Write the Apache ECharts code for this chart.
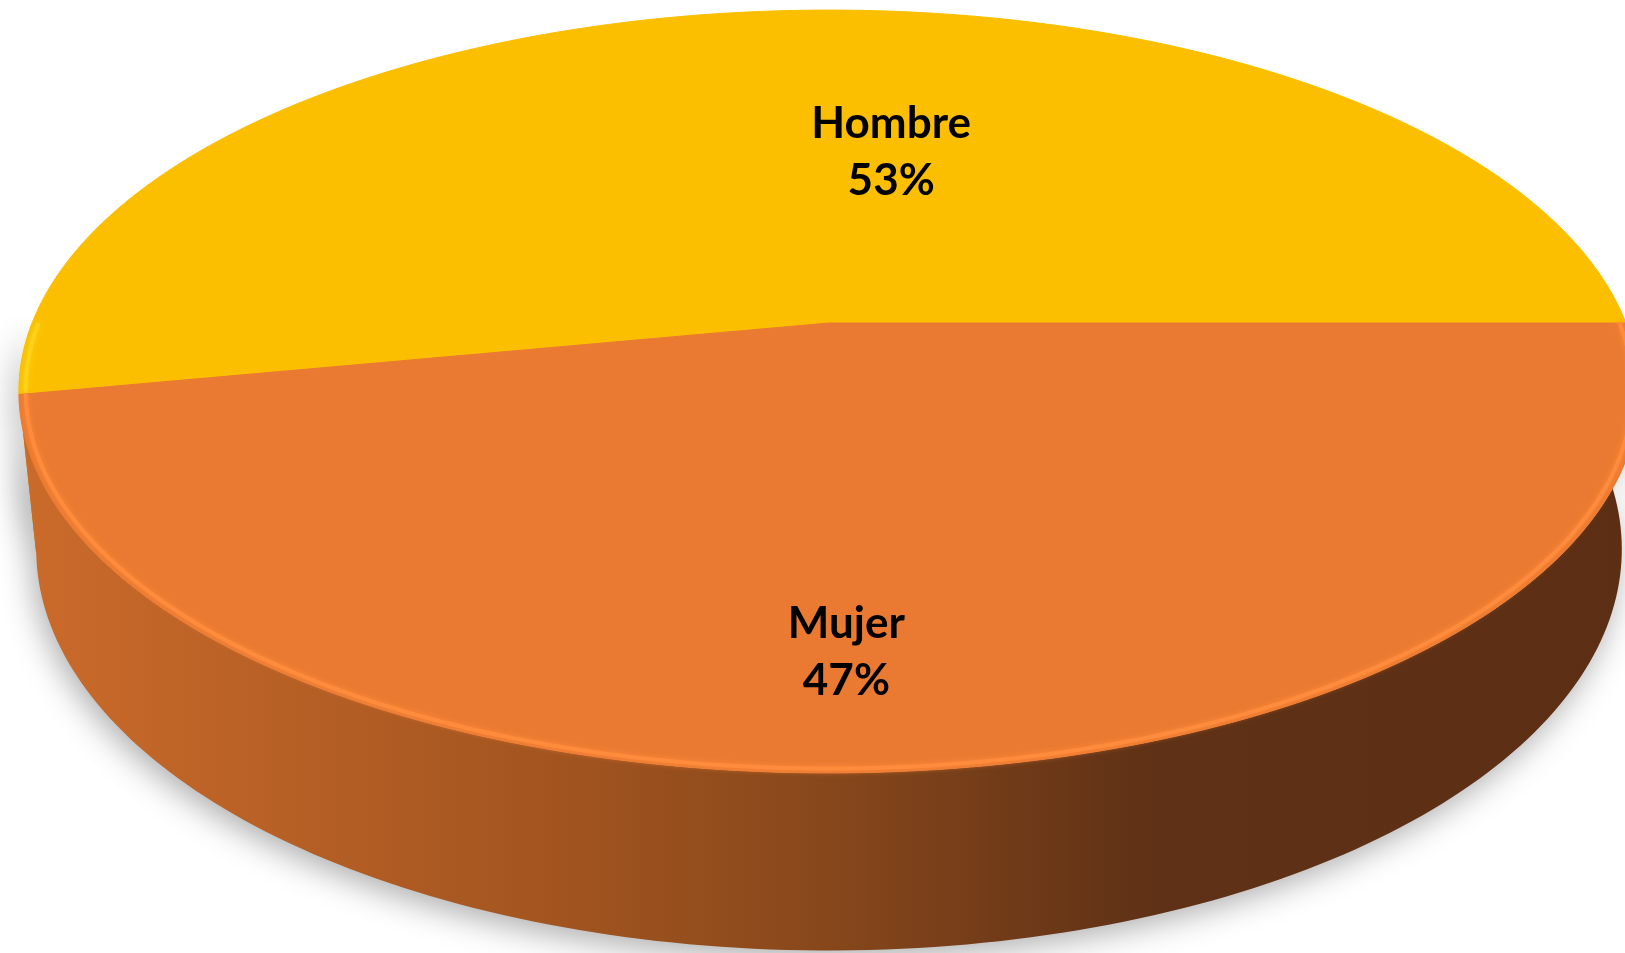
<!DOCTYPE html>
<html>
<head>
<meta charset="utf-8">
<script src="https://cdn.jsdelivr.net/npm/echarts@6/dist/echarts.min.js"></script>
<style>
html, body { margin: 0; padding: 0; background: #ffffff; }
#chart { width: 1625px; height: 953px; }
</style>
</head>
<body>
<div id="chart"></div>
<script>
// datos del grafico
var categories = ['Hombre', 'Mujer'];
var values = [53, 47];
var topColors = ['#FBBF00', '#EA7A31'];
var rimColors = ['#FFD21A', '#FF8B3D'];
// posicion de etiquetas (ajuste de angulo y radio, estilo Excel)
var labelShift = [-15, -4];
var labelRadius = [0.51, 0.77];

/* proyeccion 3D del pastel */
var CX = 829, CY = 323, F = 3932, D = 4.934;
var SIN_P = 0.4632, COS_P = 0.8862, H = 0.225;
var START = 0;

function proj(deg, r, z) {
    var a = deg * Math.PI / 180;
    var X = r * Math.cos(a), Y = r * Math.sin(a);
    var depth = D + Y * COS_P - z * SIN_P;
    var yc = Y * SIN_P + z * COS_P;
    return [CX + F * X / depth, CY - F * yc / depth];
}

var total = values.reduce(function (s, v) { return s + v; }, 0);
var slices = [];
var acc = START;
values.forEach(function (v) {
    var span = v / total * 360;
    slices.push({ a0: acc, a1: acc + span });
    acc += span;
});

function arc(a0, a1, r, z) {
    var pts = [];
    var n = Math.max(2, Math.ceil(Math.abs(a1 - a0)));
    for (var i = 0; i <= n; i++) {
        pts.push(proj(a0 + (a1 - a0) * i / n, r, z));
    }
    return pts;
}

function wallRange(s) {
    var lo = Math.max(s.a0, 180), hi = Math.min(s.a1, 360);
    return hi > lo ? [lo, hi] : null;
}

var wallFill = [
    '#C99800',
    new echarts.graphic.LinearGradient(0, 0, 1, 0, [
        { offset: 0, color: '#CB6B2B' },
        { offset: 0.35, color: '#A0531F' },
        { offset: 0.5, color: '#87471B' },
        { offset: 0.7, color: '#5F3116' },
        { offset: 1, color: '#5C2F15' }
    ])
];

function renderWall(params, api) {
    var s = slices[params.dataIndex];
    var rg = wallRange(s);
    if (!rg) return;
    var top = arc(rg[0], rg[1], 1, 0);
    var bot = arc(rg[0], rg[1], 1, -H).reverse();
    return {
        type: 'polygon',
        shape: { points: top.concat(bot) },
        style: {
            fill: wallFill[params.dataIndex],
            shadowColor: 'rgba(0,0,0,0.32)',
            shadowBlur: 32,
            shadowOffsetY: 8,
            shadowOffsetX: -4
        }
    };
}

function renderTop(params, api) {
    var i = params.dataIndex;
    var s = slices[i];
    var pts = [proj(0, 0, 0)].concat(arc(s.a0, s.a1, 1, 0));
    var children = [{
        type: 'polygon',
        shape: { points: pts },
        style: { fill: topColors[i], stroke: topColors[i], lineWidth: 1 }
    }];
    var rg = wallRange(s);
    if (rg) {
        children.push({
            type: 'polyline',
            shape: { points: arc(rg[0], rg[1], 0.992, 0) },
            style: { stroke: rimColors[i], lineWidth: 4, fill: null, shadowColor: rimColors[i], shadowBlur: 6 }
        });
    }
    var mid = (s.a0 + s.a1) / 2 + labelShift[i];
    var p = proj(mid, labelRadius[i], 0);
    var pct = Math.round(values[i] / total * 100);
    children.push({
        type: 'text',
        style: {
            text: categories[i] + '\n' + pct + '%',
            x: p[0],
            y: p[1],
            align: 'center',
            verticalAlign: 'middle',
            fill: '#000000',
            fontFamily: 'Lato',
            fontWeight: 'bold',
            fontSize: 44,
            lineHeight: 57
        }
    });
    return { type: 'group', children: children };
}

var chart = echarts.init(document.getElementById('chart'));
var option = {
    backgroundColor: '#ffffff',
    animation: false,
    series: [
        {
            type: 'custom',
            name: 'pared',
            coordinateSystem: 'none',
            renderItem: renderWall,
            data: values,
            z: 1
        },
        {
            type: 'custom',
            name: 'sexo',
            coordinateSystem: 'none',
            renderItem: renderTop,
            data: values,
            z: 2
        }
    ]
};
chart.setOption(option);
</script>
</body>
</html>
